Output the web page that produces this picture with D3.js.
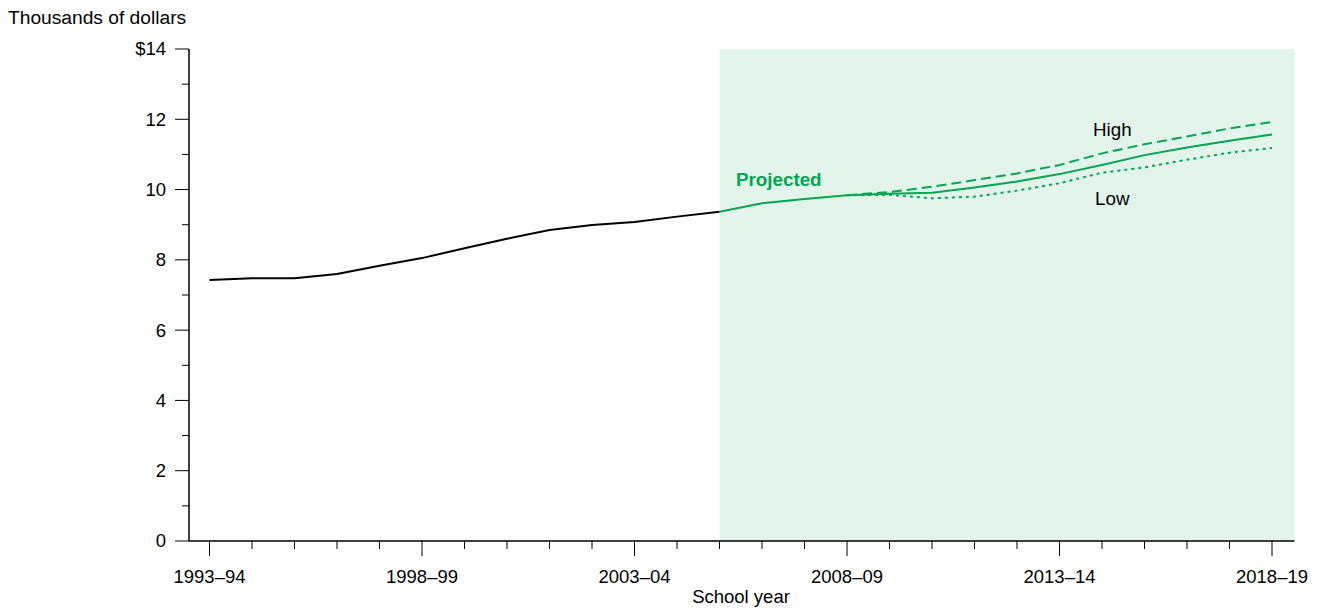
<!DOCTYPE html>
<html><head><meta charset="utf-8">
<script src="https://cdn.jsdelivr.net/npm/d3@7"></script>
<style>
body{margin:0;background:#fff;}
text{font-family:"Liberation Sans",Arial,Helvetica,sans-serif;}
</style></head>
<body><svg id="c" width="1319" height="610"></svg>
<script>
const years = ["1993–94","1994–95","1995–96","1996–97","1997–98","1998–99","1999–2000","2000–01","2001–02","2002–03","2003–04","2004–05","2005–06","2006–07","2007–08","2008–09","2009–10","2010–11","2011–12","2012–13","2013–14","2014–15","2015–16","2016–17","2017–18","2018–19"];
const labeledYears = ["1993–94","1998–99","2003–04","2008–09","2013–14","2018–19"];
const histYears = years.slice(0, 13);
const histValues = [7.43,7.48,7.48,7.60,7.83,8.05,8.33,8.60,8.85,8.99,9.08,9.23,9.37];
const projYears = years.slice(12);
const middleValues = [9.37,9.61,9.73,9.84,9.88,9.91,10.06,10.23,10.44,10.70,10.98,11.20,11.39,11.57];
const altYears = years.slice(15);
const highValues = [9.84,9.93,10.08,10.27,10.46,10.70,11.03,11.29,11.51,11.74,11.92];
const lowValues = [9.84,9.85,9.75,9.80,9.97,10.18,10.48,10.63,10.85,11.05,11.18];
const yTicks = [0,2,4,6,8,10,12,14];
const yMinor = [1,3,5,7,9,11,13];

const svg = d3.select("#c");
const green = "#00a651";
const x = d3.scalePoint().domain(years).range([209.5, 1272]);
const y = d3.scaleLinear().domain([0,14]).range([541, 49]);
const left = 189, right = 1294.5;

// projection shading
svg.append("rect").attr("x", x("2005–06")).attr("y", y(14))
  .attr("width", right - x("2005–06")).attr("height", y(0)-y(14)).attr("fill","#e3f5eb");

// y axis
const yAxis = svg.append("g").attr("transform",`translate(${left},0)`);
yAxis.append("line").attr("x1",0).attr("x2",0).attr("y1",y(14)).attr("y2",y(0)).attr("stroke","#000").attr("stroke-width",1.5);
yAxis.selectAll(".maj").data(yTicks).join("line").attr("x1",-14).attr("x2",0).attr("y1",d=>y(d)).attr("y2",d=>y(d)).attr("stroke","#000").attr("stroke-width",1);
yAxis.selectAll(".min").data(yMinor).join("line").attr("class","min").attr("x1",-7).attr("x2",0).attr("y1",d=>y(d)).attr("y2",d=>y(d)).attr("stroke","#000").attr("stroke-width",1);
yAxis.selectAll("text").data(yTicks).join("text").attr("x",-23).attr("y",d=>y(d)).attr("dy","0.35em")
  .attr("text-anchor","end").attr("font-size","18.5px").attr("fill","#000").text(d=>d===14?"$14":d);

svg.append("text").attr("x",8).attr("y",24).attr("font-size","19.2px").text("Thousands of dollars");

// x axis
const xAxis = svg.append("g").attr("transform",`translate(0,${y(0)})`);
xAxis.append("line").attr("x1",left).attr("x2",right).attr("y1",0).attr("y2",0).attr("stroke","#000").attr("stroke-width",1.5);
xAxis.selectAll(".t").data(years).join("line").attr("class","t").attr("x1",d=>x(d)).attr("x2",d=>x(d)).attr("y1",0)
  .attr("y2",d=>labeledYears.includes(d)?15:8).attr("stroke","#000").attr("stroke-width",1);
xAxis.selectAll("text").data(labeledYears).join("text").attr("x",d=>x(d)).attr("y",36).attr("dy","0.35em")
  .attr("text-anchor","middle").attr("font-size","18.5px").text(d=>d);
svg.append("text").attr("x",741).attr("y",597).attr("dy","0.35em").attr("text-anchor","middle").attr("font-size","18.5px").text("School year");

const line = d3.line().x(d=>x(d[0])).y(d=>y(d[1]));
svg.append("path").datum(d3.zip(histYears,histValues)).attr("d",line).attr("fill","none").attr("stroke","#000").attr("stroke-width",2);
svg.append("path").datum(d3.zip(altYears,highValues)).attr("d",line).attr("fill","none").attr("stroke",green).attr("stroke-width",2).attr("stroke-dasharray","10,5");
svg.append("path").datum(d3.zip(altYears,lowValues)).attr("d",line).attr("fill","none").attr("stroke",green).attr("stroke-width",2).attr("stroke-dasharray","3,4");
svg.append("path").datum(d3.zip(projYears,middleValues)).attr("d",line).attr("fill","none").attr("stroke",green).attr("stroke-width",2);

svg.append("text").attr("x",736).attr("y",179).attr("dy","0.35em").attr("font-size","18.8px").attr("font-weight","bold").attr("fill",green).text("Projected");
svg.append("text").attr("x",1093).attr("y",129).attr("dy","0.35em").attr("font-size","18.8px").text("High");
svg.append("text").attr("x",1095).attr("y",198).attr("dy","0.35em").attr("font-size","18.8px").text("Low");
</script></body></html>
